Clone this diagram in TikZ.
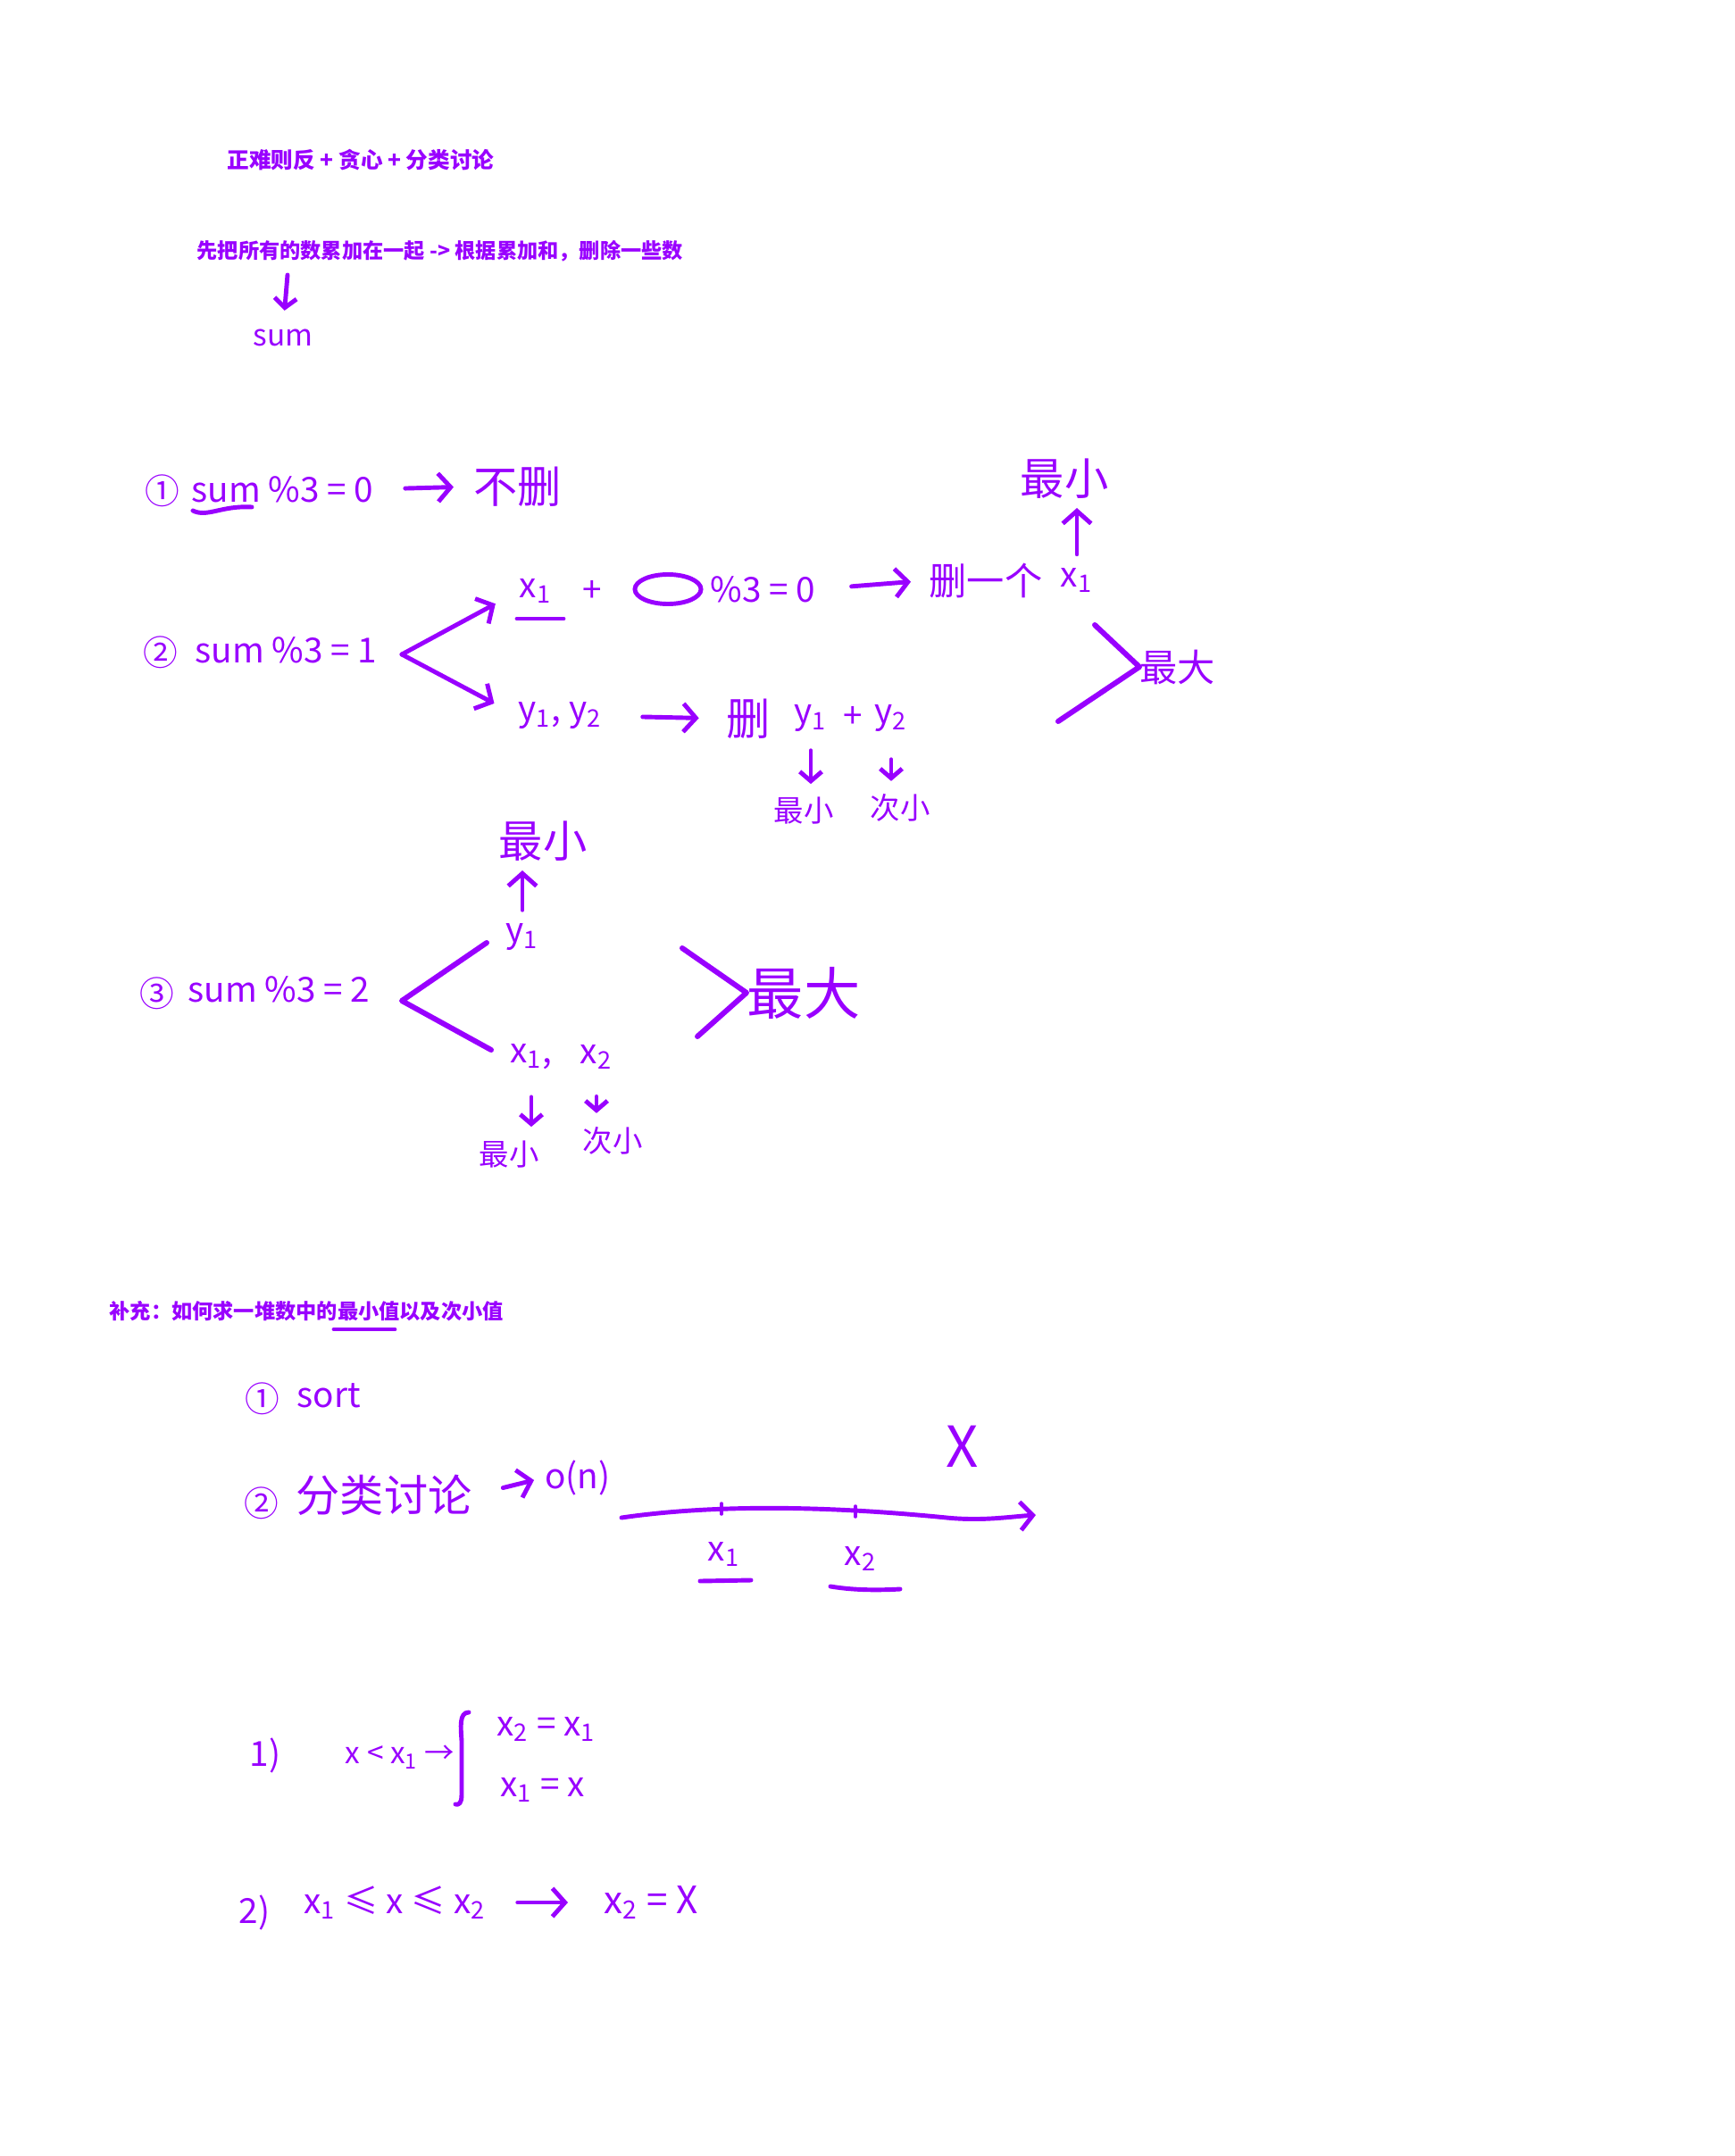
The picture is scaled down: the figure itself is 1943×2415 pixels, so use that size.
\documentclass[tikz,border=0pt]{standalone}
\usepackage{fontspec}
\setmainfont{Noto Sans CJK SC}
\usepackage{xcolor}
\usetikzlibrary{arrows.meta, positioning, shapes.geometric}
\definecolor{notepurple}{RGB}{153,0,255}

\begin{document}
\begin{tikzpicture}[
  x=0.01cm, y=-0.01cm,
  >={Straight Barb[length=4pt, width=9pt]},
  every node/.style={text=notepurple, inner sep=0pt},
  typed/.style={font=\bfseries\fontsize{7}{9}\selectfont},
  typedsmall/.style={font=\bfseries\fontsize{6.6}{8}\selectfont},
  hand/.style={font=\fontsize{11}{13}\selectfont},
  handbig/.style={font=\fontsize{14}{16}\selectfont},
  handmid/.style={font=\fontsize{12}{14}\selectfont},
  handsmall/.style={font=\fontsize{9.5}{11}\selectfont},
  bigword/.style={font=\fontsize{12}{14}\selectfont},
  hugeword/.style={font=\fontsize{18}{20}\selectfont},
  ink/.style={draw=notepurple, line width=1.4pt, line cap=round, line join=round},
  bracket/.style={ink, line width=1.7pt},
  arr/.style={ink, ->},
  tinyarr/.style={ink, -{Straight Barb[length=3pt, width=7pt]}},
]
\fill[white] (0,0) rectangle (1943,2415);
\useasboundingbox (0,0) rectangle (1943,2415);

%% -- header -------------------------------------------------------------
\node[typed, anchor=west] (title) at (254,179) {正难则反 + 贪心 + 分类讨论};
\node[typedsmall, anchor=west] (plan) at (220,281)
  {先把所有的数累加在一起 -> 根据累加和，删除一些数};
\node[handsmall] (sum) at (317,378) {sum};
\coordinate (plandown) at (322,308);
\draw[tinyarr, shorten >=0.2cm] (plandown) -- (sum.north);

%% -- case sum%3 = 0 -----------------------------------------------------
\node[hand] (one) at (182,550) {①};
\node[hand, anchor=west] (rest0) at (214,548) {sum \%3 = 0};
\draw[ink] (216,572) .. controls (232,580) and (248,566) .. (282,568);
\node[handbig, anchor=west] (keep) at (530,545) {不删};
\draw[arr, shorten <=0.35cm, shorten >=0.22cm] (rest0.east) -- (keep.west);

%% -- case sum%3 = 1 -----------------------------------------------------
\node[hand] (two) at (180,731) {②};
\node[hand, anchor=west] (rest1) at (218,728) {sum \%3 = 1};
\coordinate (fork1) at (450,733);

\node[hand] (xone) at (600,662) {x\textsubscript{1}};
\draw[ink] (579,693) -- (631,693);
\node[hand] (plusA) at (663,662) {+};
\node[ellipse, draw=notepurple, line width=1.4pt,
      minimum width=0.74cm, minimum height=0.33cm] (blank) at (748,660) {};
\node[hand, anchor=west] (modA) at (795,660) {\%3 = 0};
\node[handmid, anchor=west] (delone) at (1040,650) {删一个};
\node[hand] (xoneB) at (1206,650) {x\textsubscript{1}};
\node[handbig] (minA) at (1192,536) {最小};
\draw[arr, shorten <=0.15cm, shorten >=0.1cm] (xoneB.north) -- (xoneB.north |- minA.south);
\draw[arr, shorten <=0.4cm, shorten >=0.2cm] (modA.east) -- (delone.west);

\node[hand, anchor=west] (ypair) at (580,802) {y\textsubscript{1}, y\textsubscript{2}};
\node[handbig] (deltwo) at (838,805) {删};
\node[hand] (yone) at (908,805) {y\textsubscript{1}};
\node[hand] (plusB) at (955,803) {+};
\node[hand] (ytwo) at (998,805) {y\textsubscript{2}};
\node[handsmall] (minB) at (900,908) {最小};
\node[handsmall] (secB) at (1008,905) {次小};

\draw[arr, shorten >=0.3cm] (fork1) -- (xone.west);
\draw[arr, shorten >=0.3cm] (fork1) -- (ypair.west);
\draw[arr, shorten <=0.45cm, shorten >=0.3cm] (ypair.east) -- (deltwo.west);
\draw[tinyarr, shorten <=0.2cm, shorten >=0.14cm] (yone.south) -- (yone.south |- minB.north);
\draw[tinyarr, shorten <=0.3cm, shorten >=0.14cm] (ytwo.south) -- (ytwo.south |- secB.north);

\node[bigword, anchor=west] (maxA) at (1276,747) {最大};
\draw[bracket] (1226,700) -- (maxA.west) -- (1185,808);

%% -- case sum%3 = 2 -----------------------------------------------------
\node[hand] (three) at (176,1113) {③};
\node[hand, anchor=west] (rest2) at (210,1108) {sum \%3 = 2};
\coordinate (fork2) at (450,1121);
\node[hand] (yoneC) at (585,1050) {y\textsubscript{1}};
\node[handbig] (minC) at (608,942) {最小};
\draw[arr, shorten <=0.15cm, shorten >=0.1cm] (yoneC.north) -- (yoneC.north |- minC.south);
\node[hand] (xoneC) at (595,1184) {x\textsubscript{1},};
\node[hand] (xtwoC) at (668,1184) {x\textsubscript{2}};
\node[handsmall] (minD) at (570,1293) {最小};
\node[handsmall] (secD) at (686,1278) {次小};
\draw[tinyarr, shorten <=0.3cm, shorten >=0.15cm] (xoneC.south) -- (xoneC.south |- minD.north);
\draw[tinyarr, shorten <=0.3cm, shorten >=0.15cm] (xtwoC.south) -- (xtwoC.south |- secD.north);
\draw[bracket] (545,1056) -- (fork2) -- (550,1176);

\node[hugeword, anchor=west] (maxB) at (836,1112) {最大};
\draw[bracket] (764,1062) -- (maxB.west) -- (781,1161);

%% -- supplement ---------------------------------------------------------
\node[typedsmall, anchor=west] (extra) at (122,1469)
  {补充：如何求一堆数中的最小值以及次小值};
\draw[ink] (374,1489) -- (442,1489);

\node[hand] (optA) at (294,1567) {①};
\node[hand, anchor=west] (sorting) at (332,1563) {sort};
\node[hand] (optB) at (293,1684) {②};
\node[handbig, anchor=west] (cases) at (331,1675) {分类讨论};
\node[hand] (linear) at (647,1655) {o(n)};
\draw[arr, shorten <=0.35cm, shorten >=0.12cm] (cases.east) -- (linear.west);

%% number line
\draw[arr] (696,1700) .. controls (820,1682) and (960,1690) .. (1060,1700)
  .. controls (1100,1704) and (1130,1699) .. (1160,1697);
\draw[ink, line width=1pt] (808,1684) -- (808,1696);
\draw[ink, line width=1pt] (958,1687) -- (958,1699);
\node[hand] (xmin) at (811,1741) {x\textsubscript{1}};
\draw[ink] (784,1771) -- (841,1770);
\node[hand] (xsec) at (964,1746) {x\textsubscript{2}};
\draw[ink] (930,1777) .. controls (960,1782) and (990,1781) .. (1008,1780);
\node[hugeword] (xnew) at (1078,1620) {X};

%% update rules
\node[hand] (ruleA) at (297,1966) {1)};
\node[handsmall, anchor=east] (condA) at (510,1968) {x < x\textsubscript{1} →};
\draw[ink] (525,1918) .. controls (514,1918) and (516,1935) .. (517,1950)
  -- (517,2010) .. controls (517,2020) and (514,2022) .. (510,2021);
\node[hand, anchor=west] (setA) at (556,1937) {x\textsubscript{2} = x\textsubscript{1}};
\node[hand, anchor=west] (setB) at (560,2005) {x\textsubscript{1} = x};

\node[hand] (ruleB) at (285,2142) {2)};
\node[hand, anchor=west] (condB) at (340,2131) {x\textsubscript{1} ≤ x ≤ x\textsubscript{2}};
\node[handmid, anchor=west] (setC) at (676,2131) {x\textsubscript{2} = X};
\draw[arr, shorten <=0.35cm, shorten >=0.4cm] (condB.east) -- (setC.west);

\end{tikzpicture}
\end{document}
